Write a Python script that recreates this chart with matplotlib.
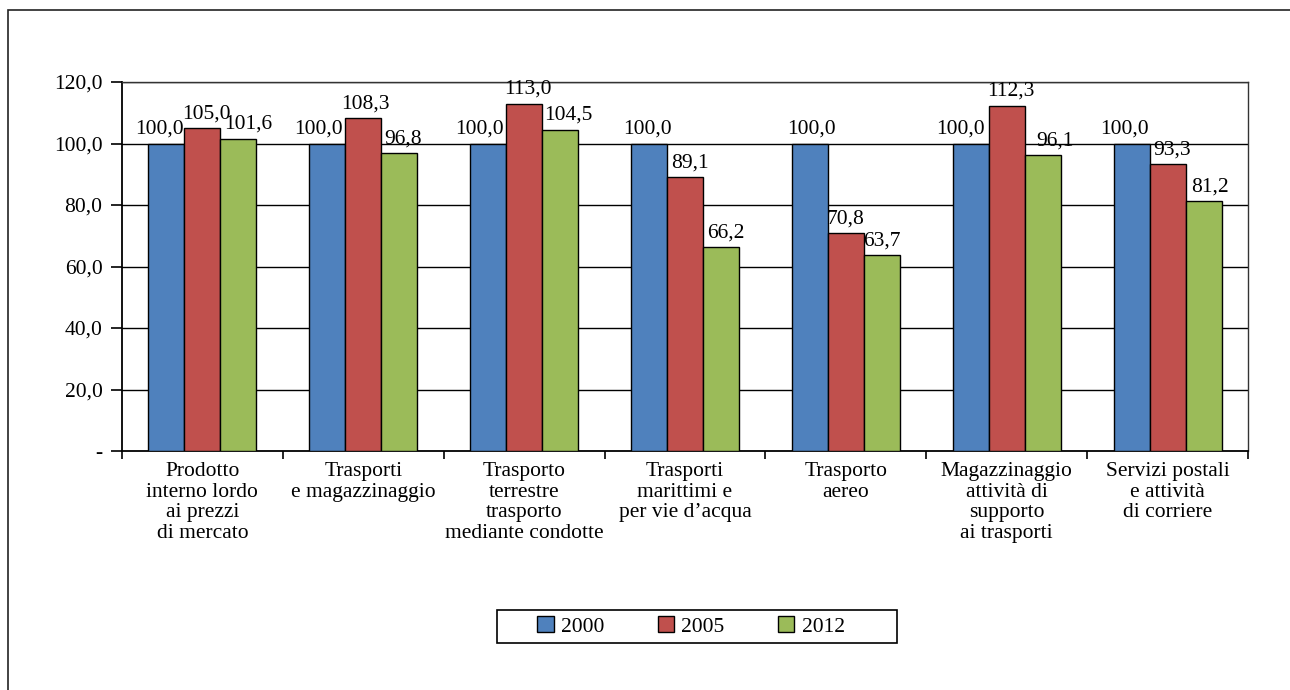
import matplotlib
matplotlib.use("Agg")
import matplotlib.pyplot as plt
import numpy as np
from matplotlib.patches import Rectangle

plt.rcParams['font.family'] = ['Liberation Serif', 'DejaVu Serif']

categories = ["Prodotto\ninterno lordo\nai prezzi\ndi mercato",
              "Trasporti\ne magazzinaggio",
              "Trasporto\nterrestre\ntrasporto\nmediante condotte",
              "Trasporti\nmarittimi e\nper vie d\u2019acqua",
              "Trasporto\naereo",
              "Magazzinaggio\nattivit\u00e0 di\nsupporto\nai trasporti",
              "Servizi postali\ne attivit\u00e0\ndi corriere"]
years = ["2000", "2005", "2012"]
v2000 = [100.0, 100.0, 100.0, 100.0, 100.0, 100.0, 100.0]
v2005 = [105.0, 108.3, 113.0, 89.1, 70.8, 112.3, 93.3]
v2012 = [101.6, 96.8, 104.5, 66.2, 63.7, 96.1, 81.2]
yticks = [0, 20, 40, 60, 80, 100, 120]
ytick_labels = ["-", "20,0", "40,0", "60,0", "80,0", "100,0", "120,0"]

# horizontal nudges (pixels) of the value labels, as placed in the reference
nudge = [[-7, -9, -9, -1, 2, -10, -7],
         [4, 2, 4, 5, 0, 4, 4],
         [10, 4, 8, 5, 0, 12, 6]]

colors = ["#4F81BD", "#C0504D", "#9BBB59"]
FS = 15.5

W, H = 1290, 690
fig = plt.figure(figsize=(W/100, H/100), dpi=100)
ax = fig.add_axes([122/W, 1-451/H, (1248-122)/W, (451-82)/H])

# outer frame
fig.patches.append(Rectangle((8/W, -0.1), 1.2, (1-10/H)+0.1, transform=fig.transFigure,
                             fill=False, edgecolor="#222222", linewidth=1.2))

x = np.arange(len(categories))
bw = 0.224
series = [v2000, v2005, v2012]
for i, (vals, c, yr) in enumerate(zip(series, colors, years)):
    pos = x + (i-1)*bw
    ax.bar(pos, vals, width=bw, color=c, edgecolor="black", linewidth=1.0,
           label=yr, zorder=3)
    for j, (p, v) in enumerate(zip(pos, vals)):
        ax.annotate(f"{v:.1f}".replace(".", ","), (p, v),
                    xytext=(nudge[i][j]*0.72, 3.5), textcoords="offset points",
                    ha="center", va="bottom", fontsize=FS, zorder=4)

ax.set_xlim(-0.5, len(categories)-0.5)
ax.set_ylim(0, 120)
ax.set_yticks(yticks)
ax.set_yticklabels(ytick_labels, fontsize=FS)
for yv in yticks[1:]:
    ax.axhline(yv, color="black", linewidth=1.0, zorder=1)

ax.set_xticks(x)
ax.set_xticklabels(categories, fontsize=FS, linespacing=1.12)
ax.tick_params(axis="x", length=0, pad=8)
ax.set_xticks(np.arange(-0.5, len(categories)), minor=True)
ax.tick_params(axis="x", which="minor", length=6, width=1.2, direction="out")
ax.tick_params(axis="y", length=8, width=1.2, direction="out", pad=6)

for s in ["left", "bottom"]:
    ax.spines[s].set_linewidth(1.3)
    ax.spines[s].set_color("black")
for s in ["top", "right"]:
    ax.spines[s].set_linewidth(1.0)
    ax.spines[s].set_color("#333333")

# legend box
fig.patches.append(Rectangle((497/W, 1-643/H), 400/W, 33/H, transform=fig.transFigure,
                             fill=False, edgecolor="black", linewidth=1.2))
leg = fig.legend(loc="center", bbox_to_anchor=(691/W, 1-626.5/H), ncol=3,
                 frameon=False, fontsize=FS, handlelength=0.75,
                 handleheight=0.75, columnspacing=2.5, handletextpad=0.33,
                 borderpad=0, borderaxespad=0)

fig.savefig("out.png", dpi=100)
